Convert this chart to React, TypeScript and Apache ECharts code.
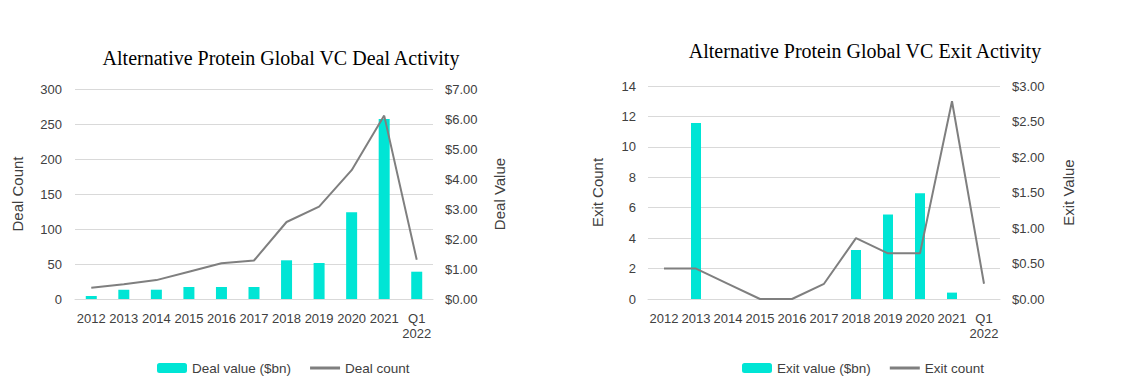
import React, { useEffect, useRef } from "react";
import * as echarts from "echarts";

const categories = ["2012", "2013", "2014", "2015", "2016", "2017", "2018", "2019", "2020", "2021", "Q1\n2022"];
const dealValue = [0.1, 0.31, 0.31, 0.4, 0.4, 0.4, 1.29, 1.2, 2.89, 6.0, 0.91];
const dealCount = [16, 21, 27, 39, 51, 55, 110, 132, 184, 262, 56];
const exitValue = [0, 2.48, 0, 0, 0, 0, 0.69, 1.19, 1.49, 0.09, 0];
const exitCount = [2, 2, 1, 0, 0, 1, 4, 3, 3, 13, 1];

const CYAN = "#00E5D5";
const GREY = "#7F7F7F";
const SANS = "Liberation Sans, Arial, sans-serif";
const SERIF = "Liberation Serif, serif";
const LINE_ICON = "path://M0,0H30V3H0Z";

export default function App() {
  const ref = useRef<HTMLDivElement>(null);
  useEffect(() => {
    const chart = echarts.init(ref.current!, null, { renderer: "svg" });
    const axisLabel = { color: "#404040", fontSize: 13, fontFamily: SANS };
    const nameStyle = { color: "#404040", fontSize: 15, fontFamily: SANS };
    const splitLine = { show: true, lineStyle: { color: "#D9D9D9", width: 1 } };
    const money = (v: number) => "$" + v.toFixed(2);
    const xAxisBase = (gridIndex: number) => ({
      type: "category" as const,
      gridIndex,
      data: categories,
      axisLine: { show: true, lineStyle: { color: "#D9D9D9" } },
      axisTick: { show: false },
      axisLabel: { ...axisLabel, interval: 0, margin: 12, lineHeight: 15 },
    });
    const legendText = { fontFamily: SANS, fontSize: 13.5, color: "#404040" };
    chart.setOption({
      animation: false,
      title: [
        { text: "Alternative Protein Global VC Deal Activity", left: 276, top: 43, textAlign: "center",
          textStyle: { fontFamily: SERIF, fontSize: 20, fontWeight: "normal", color: "#000" } },
        { text: "Alternative Protein Global VC Exit Activity", left: 860, top: 36, textAlign: "center",
          textStyle: { fontFamily: SERIF, fontSize: 20, fontWeight: "normal", color: "#000" } },
      ],
      legend: [
        { data: ["Deal value ($bn)", { name: "Deal count", icon: LINE_ICON }], left: 152, top: 356, itemWidth: 30, itemHeight: 10, itemGap: 19,
          textStyle: legendText },
        { data: ["Exit value ($bn)", { name: "Exit count", icon: LINE_ICON }], left: 737, top: 356, itemWidth: 30, itemHeight: 10, itemGap: 19,
          textStyle: legendText },
      ],
      grid: [
        { left: 75, width: 358, top: 89, height: 210 },
        { left: 648, width: 352, top: 86, height: 213 },
      ],
      xAxis: [xAxisBase(0), xAxisBase(1)],
      yAxis: [
        { type: "value", gridIndex: 0, min: 0, max: 300, interval: 50, name: "Deal Count", nameLocation: "middle", nameGap: 50,
          nameTextStyle: nameStyle, axisLabel: { ...axisLabel, margin: 13 }, splitLine, axisLine: { show: false }, axisTick: { show: false } },
        { type: "value", gridIndex: 0, min: 0, max: 7, interval: 1, name: "Deal Value", nameLocation: "middle", nameGap: 59,
          nameTextStyle: nameStyle, axisLabel: { ...axisLabel, margin: 12, formatter: money }, splitLine: { show: false },
          axisLine: { show: false }, axisTick: { show: false } },
        { type: "value", gridIndex: 1, min: 0, max: 14, interval: 2, name: "Exit Count", nameLocation: "middle", nameGap: 43,
          nameTextStyle: nameStyle, axisLabel: { ...axisLabel, margin: 12 }, splitLine, axisLine: { show: false }, axisTick: { show: false } },
        { type: "value", gridIndex: 1, min: 0, max: 3, interval: 0.5, name: "Exit Value", nameLocation: "middle", nameGap: 61,
          nameTextStyle: nameStyle, axisLabel: { ...axisLabel, margin: 12, formatter: money }, splitLine: { show: false },
          axisLine: { show: false }, axisTick: { show: false } },
      ],
      series: [
        { name: "Deal value ($bn)", type: "bar", xAxisIndex: 0, yAxisIndex: 1, data: dealValue, barWidth: 11, itemStyle: { color: CYAN } },
        { name: "Deal count", type: "line", xAxisIndex: 0, yAxisIndex: 0, data: dealCount, symbol: "none", lineStyle: { color: GREY, width: 2 }, itemStyle: { color: GREY } },
        { name: "Exit value ($bn)", type: "bar", xAxisIndex: 1, yAxisIndex: 3, data: exitValue, barWidth: 10, itemStyle: { color: CYAN } },
        { name: "Exit count", type: "line", xAxisIndex: 1, yAxisIndex: 2, data: exitCount, symbol: "none", lineStyle: { color: GREY, width: 2 }, itemStyle: { color: GREY } },
      ],
    });
    return () => chart.dispose();
  }, []);
  return <div ref={ref} style={{ position: "fixed", left: 0, top: 0, width: 1140, height: 387, background: "#fff" }} />;
}
